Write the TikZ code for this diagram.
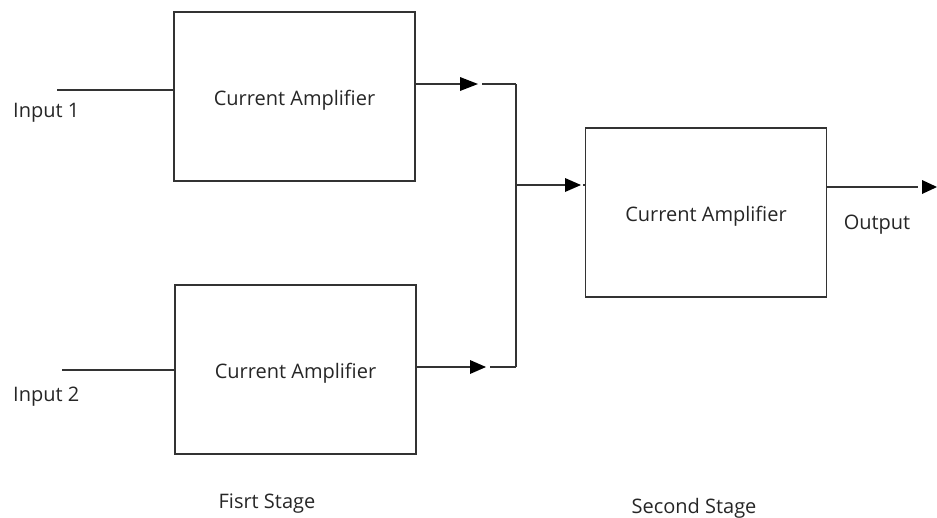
\documentclass[tikz,border=0pt]{standalone}
\usepackage{fontspec}
\setmainfont{Open Sans}
\begin{document}
\begin{tikzpicture}[x=1pt,y=-1pt,
  amp/.style={draw=black!80,line width=1.6pt,minimum width=241pt,minimum height=169pt,inner sep=0pt,
    label={[lbl,yshift=-3.5pt]center:Current Amplifier}},
  wire/.style={draw=black!80,line width=1.6pt},
  lbl/.style={font=\fontsize{20}{22}\selectfont,text=black!85,inner sep=0pt},
  tri/.style={fill=black}]
\useasboundingbox (0,0) rectangle (937,517);
\node[amp] (a1) at (294.5,96.5) {};
\node[amp] (a2) at (295.5,369.5) {};
\node[amp] (a3) at (706,212.5) {};
% inputs
\coordinate (i1) at (57,90);
\coordinate (i2) at (62,370);
\draw[wire] (i1) -- (i1 -| a1.west);
\draw[wire] (i2) -- (i2 -| a2.west);
\node[lbl,anchor=west] (t1) at (13,112.5) {Input 1};
\node[lbl,anchor=west] (t2) at (13,396.5) {Input 2};
% top branch
\coordinate (p1) at (460,84);
\coordinate (q1) at (482,84);
\coordinate (j1) at (516,84);
\draw[wire] (a1.east |- p1) -- (p1);
\fill[tri] (460,77) -- (478,84) -- (460,91) -- cycle;
\draw[wire] (q1) -- (j1);
% bottom branch
\coordinate (p2) at (470,367);
\coordinate (q2) at (490,367);
\coordinate (j2) at (516,367);
\draw[wire] (a2.east |- p2) -- (p2);
\fill[tri] (470,360) -- (486,367) -- (470,374) -- cycle;
\draw[wire] (q2) -- (j2);
% junction
\draw[wire] (j1) -- (j2);
\coordinate (jm) at (516,185);
\coordinate (p3) at (565,185);
\draw[wire] (jm) -- (p3);
\fill[tri] (565,178) -- (581,185) -- (565,192) -- cycle;
\draw[wire] (583,185) -- (a3.west |- jm);
% output
\coordinate (p4) at (918,187);
\draw[wire] (a3.east |- p4) -- (p4);
\fill[tri] (922,180) -- (937,187) -- (922,194) -- cycle;
\node[lbl] (out) at (877,224.5) {Output};
\node[lbl] (s1) at (267,503.5) {Fisrt Stage};
\node[lbl] (s2) at (694,508.5) {Second Stage};
\end{tikzpicture}
\end{document}
